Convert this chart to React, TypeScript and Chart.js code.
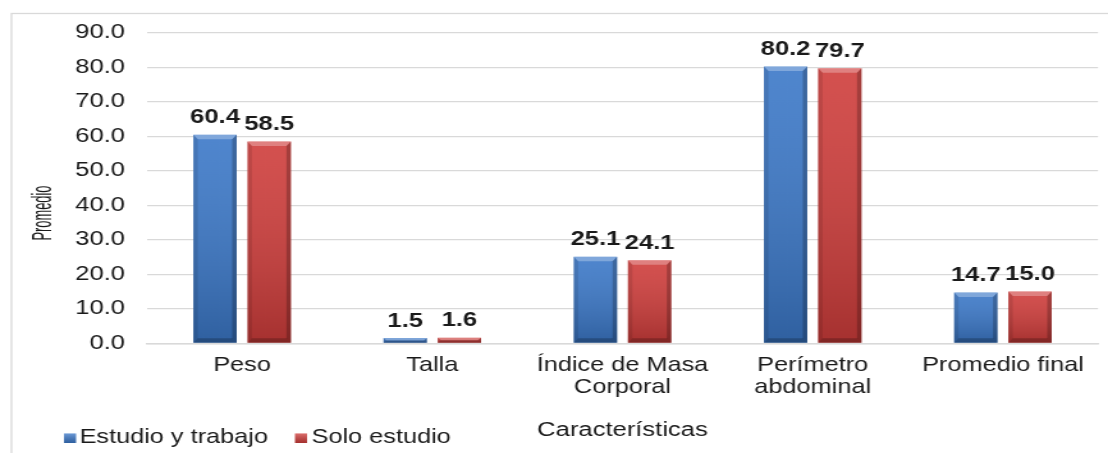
import React, { useEffect, useRef } from 'react';
import { Chart, registerables } from 'chart.js';

Chart.register(...registerables);

// ---- data ----
const categories: (string | string[])[] = [
  'Peso',
  'Talla',
  ['Índice de Masa', 'Corporal'],
  ['Perímetro', 'abdominal'],
  'Promedio final',
];
const estudioYTrabajo = [60.4, 1.5, 25.1, 80.2, 14.7];
const soloEstudio = [58.5, 1.6, 24.1, 79.7, 15.0];
const seriesNames = ['Estudio y trabajo', 'Solo estudio'];
const yTitle = 'Promedio';
const xTitle = 'Características';
const yMin = 0;
const yMax = 90;
const yStep = 10;

// ---- layout (the picture is horizontally stretched) ----
const OUT_W = 1108;
const H = 453;
const W = 866;
const S = OUT_W / W;
const ix = (px: number) => px / S;

const FONT = "'Liberation Sans', Arial, Helvetica, sans-serif";
const TEXT = '#1a1a1a';
const GRID = '#d9d9d9';
const COLORS = ['#3b78c8', '#cf3d3b'];

const bevelPlugin = {
  id: 'bevelAndLabels',
  beforeDraw(chart: any) {
    const ctx = chart.ctx;
    ctx.save();
    ctx.fillStyle = '#ffffff';
    ctx.fillRect(0, 0, chart.width, chart.height);
    ctx.strokeStyle = GRID;
    ctx.lineWidth = 1.3;
    ctx.strokeRect(ix(11.5), 13.5, chart.width + 20, chart.height + 20);
    ctx.restore();
  },
  afterDatasetsDraw(chart: any) {
    const ctx = chart.ctx;
    chart.data.datasets.forEach((ds: any, di: number) => {
      const meta = chart.getDatasetMeta(di);
      meta.data.forEach((bar: any, i: number) => {
        const { x, y, base, width } = bar.getProps(['x', 'y', 'base', 'width'], true);
        const l = x - width / 2;
        const r = x + width / 2;
        const t = Math.min(y, base);
        const b = Math.max(y, base);
        const h = b - t;
        ctx.save();
        const g = ctx.createLinearGradient(0, t, 0, b);
        g.addColorStop(0, 'rgba(255,255,255,0.10)');
        g.addColorStop(1, 'rgba(0,0,0,0.20)');
        ctx.fillStyle = g;
        ctx.fillRect(l, t, width, h);
        const bx = Math.min(3.5, width / 4, h / 2);
        const by = Math.min(4.5, h / 2);
        // top bevel
        ctx.beginPath();
        ctx.moveTo(l, t);
        ctx.lineTo(r, t);
        ctx.lineTo(r - bx, t + by);
        ctx.lineTo(l + bx, t + by);
        ctx.closePath();
        ctx.fillStyle = 'rgba(255,255,255,0.28)';
        ctx.fill();
        // left bevel
        ctx.beginPath();
        ctx.moveTo(l, t);
        ctx.lineTo(l + bx, t + by);
        ctx.lineTo(l + bx, b - by);
        ctx.lineTo(l, b);
        ctx.closePath();
        ctx.fillStyle = 'rgba(0,0,0,0.10)';
        ctx.fill();
        // right bevel
        ctx.beginPath();
        ctx.moveTo(r, t);
        ctx.lineTo(r - bx, t + by);
        ctx.lineTo(r - bx, b - by);
        ctx.lineTo(r, b);
        ctx.closePath();
        ctx.fillStyle = 'rgba(0,0,0,0.22)';
        ctx.fill();
        // bottom bevel
        ctx.beginPath();
        ctx.moveTo(l, b);
        ctx.lineTo(l + bx, b - by);
        ctx.lineTo(r - bx, b - by);
        ctx.lineTo(r, b);
        ctx.closePath();
        ctx.fillStyle = 'rgba(0,0,0,0.22)';
        ctx.fill();
        // data label
        ctx.fillStyle = TEXT;
        ctx.font = `bold 20px ${FONT}`;
        ctx.textAlign = 'center';
        ctx.textBaseline = 'alphabetic';
        ctx.fillText(Number(ds.data[i]).toFixed(1), x, t - 11.5);
        ctx.restore();
      });
    });
  },
  afterDraw(chart: any) {
    const ctx = chart.ctx;
    const area = chart.chartArea;
    ctx.save();
    // y title (condensed)
    ctx.translate(ix(43), 213);
    ctx.rotate(-Math.PI / 2);
    ctx.font = `22px ${FONT}`;
    const tw = ctx.measureText(yTitle).width;
    ctx.scale(55 / tw, 1);
    ctx.fillStyle = TEXT;
    ctx.textAlign = 'center';
    ctx.textBaseline = 'middle';
    ctx.fillText(yTitle, 0, 0);
    ctx.restore();

    // x title
    ctx.save();
    ctx.fillStyle = TEXT;
    ctx.font = `20px ${FONT}`;
    ctx.textAlign = 'center';
    ctx.textBaseline = 'middle';
    ctx.fillText(xTitle, (area.left + area.right) / 2, 430);

    // legend
    const boxX = [ix(64), ix(295)];
    const textX = [ix(79.5), ix(311.5)];
    ctx.font = `19.8px ${FONT}`;
    ctx.textAlign = 'left';
    seriesNames.forEach((name, i) => {
      const bx = boxX[i];
      const bw = ix(12);
      const bt = 433.5;
      const bh = 9.5;
      ctx.fillStyle = COLORS[i];
      ctx.fillRect(bx, bt, bw, bh);
      const g = ctx.createLinearGradient(0, bt, 0, bt + bh);
      g.addColorStop(0, 'rgba(255,255,255,0.25)');
      g.addColorStop(1, 'rgba(0,0,0,0.2)');
      ctx.fillStyle = g;
      ctx.fillRect(bx, bt, bw, bh);
      ctx.fillStyle = TEXT;
      ctx.fillText(name, textX[i], 438);
    });
    ctx.restore();
  },
};

export default function App() {
  const ref = useRef<HTMLCanvasElement>(null);
  useEffect(() => {
    if (!ref.current) return;
    const chart = new Chart(ref.current, {
      type: 'bar',
      data: {
        labels: categories as any,
        datasets: [
          {
            label: seriesNames[0],
            data: estudioYTrabajo,
            backgroundColor: COLORS[0],
            categoryPercentage: 0.57,
            barPercentage: 0.8,
          },
          {
            label: seriesNames[1],
            data: soloEstudio,
            backgroundColor: COLORS[1],
            categoryPercentage: 0.57,
            barPercentage: 0.8,
          },
        ],
      },
      options: {
        responsive: false,
        animation: false,
        devicePixelRatio: 1,
        layout: { padding: { top: 32.7, right: W - ix(1098), bottom: 0, left: 0 } },
        plugins: {
          legend: { display: false },
          tooltip: { enabled: false },
          title: { display: false },
        },
        scales: {
          x: {
            grid: { display: false, drawTicks: false },
            border: { display: true, color: GRID, width: 1.5 },
            ticks: {
              font: { size: 19.8, family: FONT, lineHeight: 1.08 },
              color: TEXT,
              padding: 12,
              maxRotation: 0,
              autoSkip: false,
            },
            afterFit: (s: any) => {
              s.height = H - 343.3;
            },
          },
          y: {
            min: yMin,
            max: yMax,
            ticks: {
              stepSize: yStep,
              callback: (v: any) => Number(v).toFixed(1),
              font: { size: 20, family: FONT },
              color: TEXT,
              padding: ix(22),
            },
            grid: { color: GRID, lineWidth: 1.3, drawTicks: false },
            border: { display: false },
            afterFit: (s: any) => {
              s.width = ix(147);
            },
          },
        },
      },
      plugins: [bevelPlugin],
    } as any);
    return () => chart.destroy();
  }, []);

  return (
    <div
      style={{
        position: 'fixed',
        left: 0,
        top: 0,
        width: OUT_W,
        height: H,
        overflow: 'hidden',
        background: '#ffffff',
      }}
    >
      <div style={{ width: W, height: H, transform: `scaleX(${S})`, transformOrigin: '0 0' }}>
        <canvas ref={ref} width={W} height={H} style={{ display: 'block' }} />
      </div>
    </div>
  );
}
